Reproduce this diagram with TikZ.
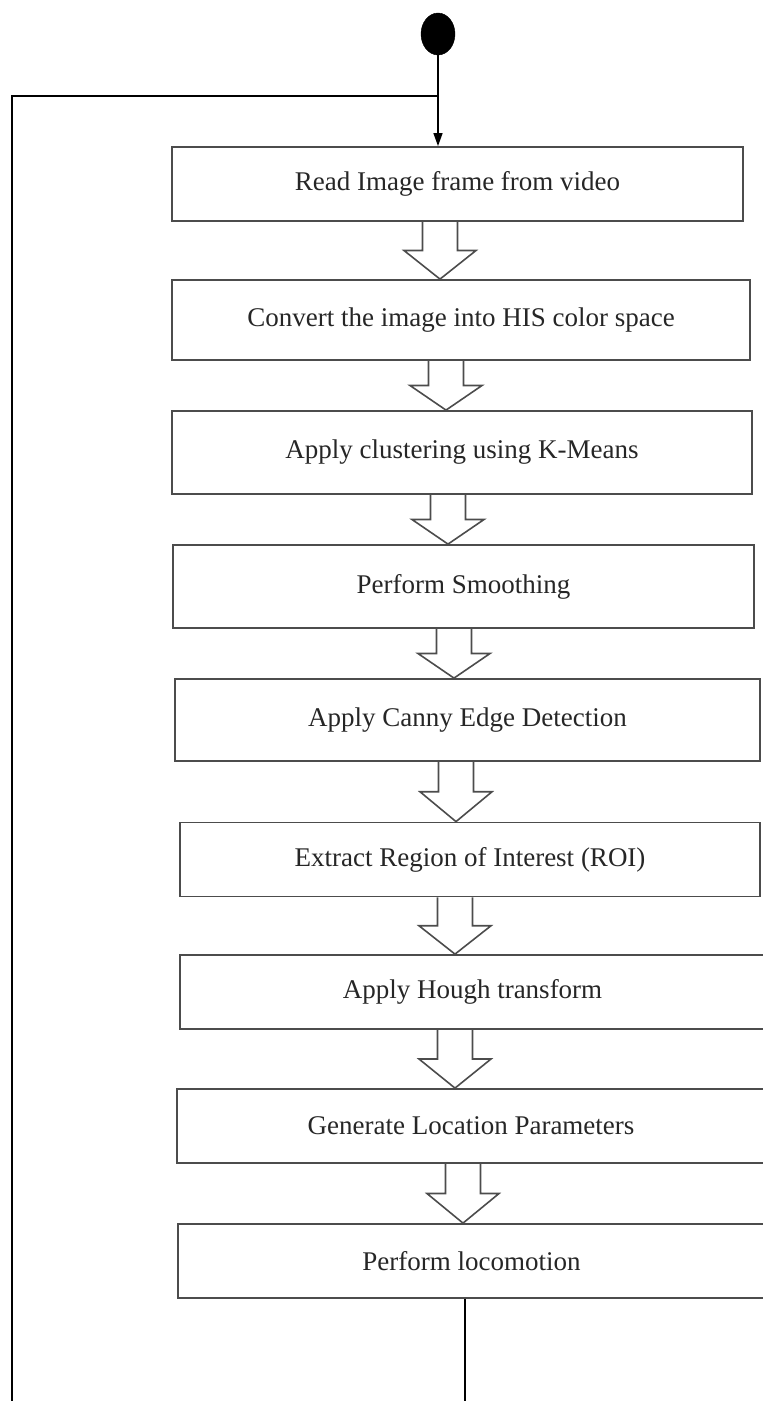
\documentclass[tikz,border=0pt]{standalone}
\usepackage{fontspec}
\setmainfont{Liberation Serif}
\usepackage{tikz}
\usetikzlibrary{arrows.meta, positioning, shapes.geometric, calc}

\begin{document}
\begin{tikzpicture}[x=1pt, y=1pt, node distance=135pt,
    stage/.style={draw=black!70, line width=1.8pt, rectangle, text centered, inner sep=0pt,
        minimum height=74pt, font=\fontsize{27}{32}\selectfont, text=black!85},
    hollow/.style={draw=black!70, line width=1.6pt, line join=miter},
    flow/.style={line width=1.3pt, black}]
    \useasboundingbox (0,0) rectangle (763,-1401);

    \node (start) [draw, fill, ellipse, inner sep=0pt, minimum width=34pt, minimum height=42pt] at (438,-34) {};

    \node (read) [stage, minimum width=571pt] at (457.5,-184) {Read Image frame from video};
    \node (convert) [stage, below of=read, minimum width=578pt, minimum height=80pt, xshift=3.5pt, yshift=-1pt] {Convert the image into HIS color space};
    \node (cluster) [stage, below of=convert, minimum width=580pt, minimum height=83pt, xshift=1pt, yshift=2.5pt] {Apply clustering using K-Means};
    \node (smooth) [stage, below of=cluster, minimum width=581pt, minimum height=83pt, xshift=1.5pt, yshift=1pt] {Perform Smoothing};
    \node (canny) [stage, below of=smooth, minimum width=585pt, minimum height=82pt, xshift=4pt, yshift=1.5pt] {Apply Canny Edge Detection};
    \node (roi) [stage, below of=canny, minimum width=580pt, xshift=2.5pt, yshift=-4.5pt] {Extract Region of Interest (ROI)};
    \node (hough) [stage, below of=roi, minimum width=585pt, xshift=2.5pt, yshift=2.5pt] {Apply Hough transform};
    \node (params) [stage, below of=hough, minimum width=588pt, xshift=-1.5pt, yshift=1pt] {Generate Location Parameters};
    \node (move) [stage, below of=params, minimum width=587pt, xshift=0.5pt] {Perform locomotion};

    % entry and loop back
    \coordinate (join) at (438,-96);
    \coordinate (loopbase) at (12,-1401);
    \coordinate (loopend) at (465,-1401);
    \draw[flow, -{Triangle[length=13pt, width=9pt]}] (start.south) -- (start.south |- read.north);
    \draw[flow] (loopbase) |- (join);
    \draw[flow] (move.south -| loopend) -- (loopend);

    % hollow block arrows between the stages
    \foreach \a/\b/\x in {read/convert/440, convert/cluster/446, cluster/smooth/448, smooth/canny/454,
                          canny/roi/456, roi/hough/455, hough/params/455, params/move/463} {
        \coordinate (mid) at ($(\a.south)!0.5!(\b.north)$);
        \path ({\x-36},0) coordinate (hl) ({\x-17.5},0) coordinate (sl) (\x,0) coordinate (tip)
              ({\x+17.5},0) coordinate (sr) ({\x+36},0) coordinate (hr);
        \draw[hollow] (\a.south -| sl) -- (mid -| sl) -- (mid -| hl) -- (\b.north -| tip)
            -- (mid -| hr) -- (mid -| sr) -- (\a.south -| sr);
    }
\end{tikzpicture}
\end{document}
